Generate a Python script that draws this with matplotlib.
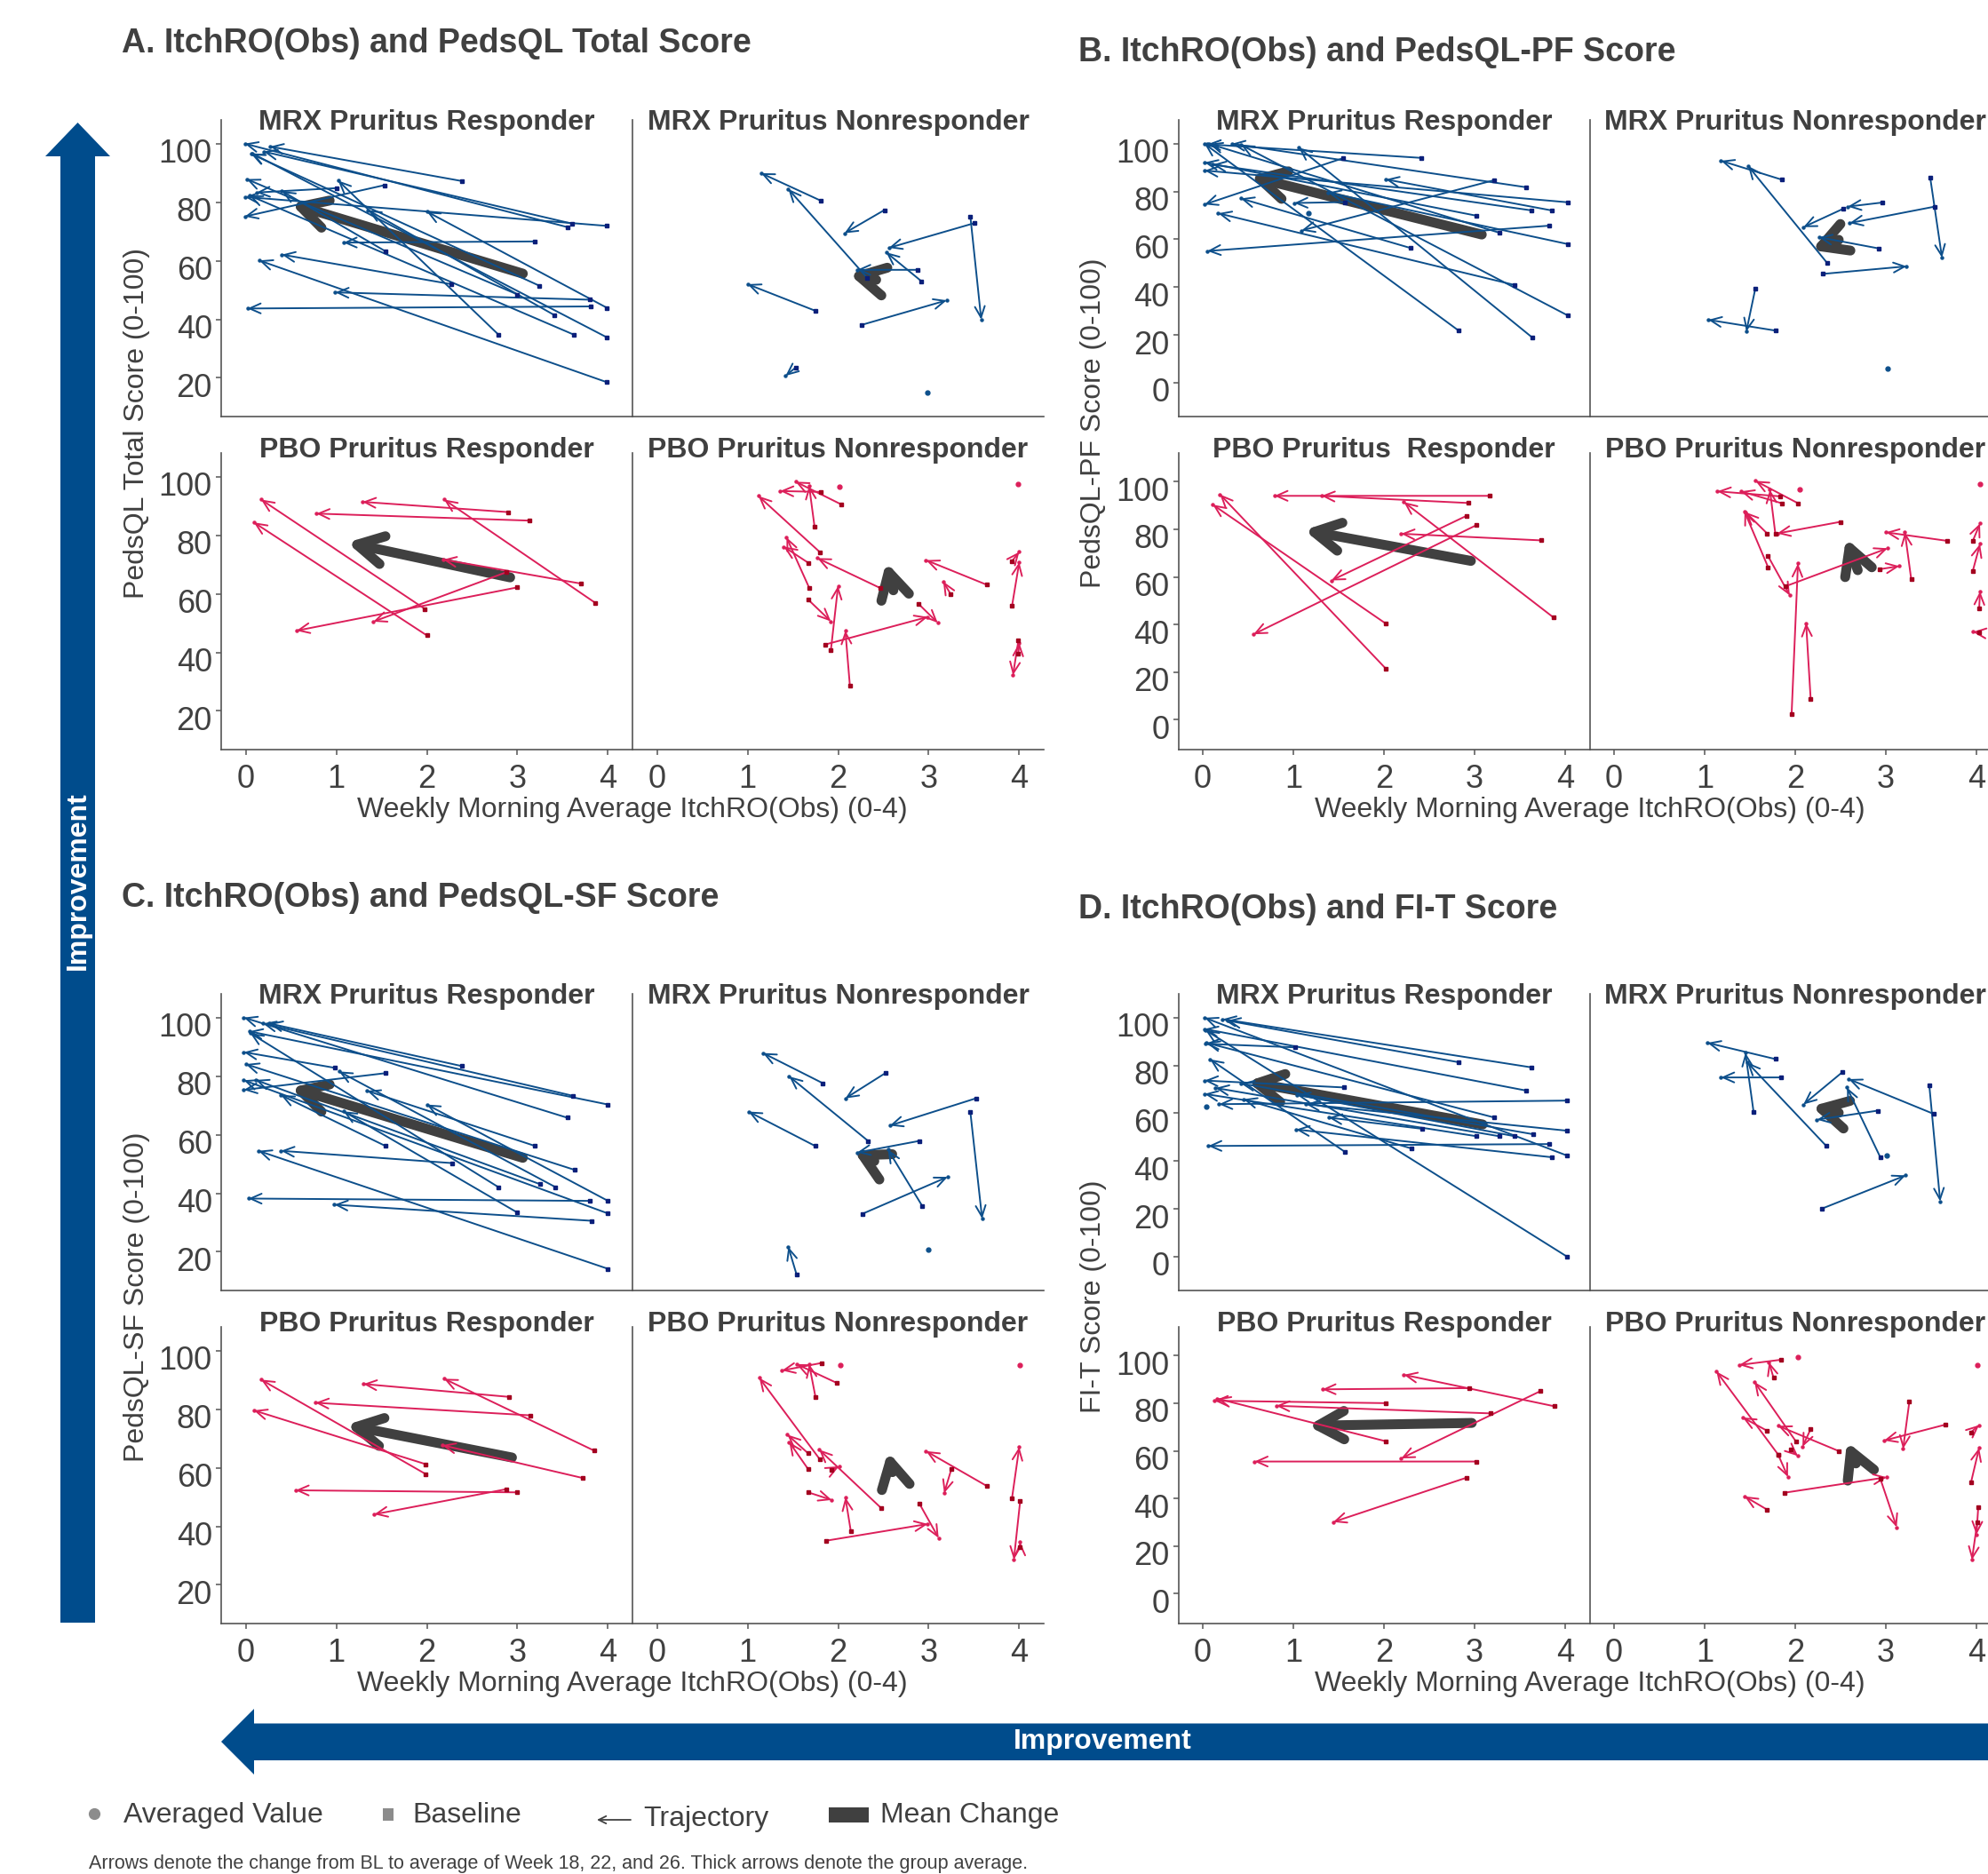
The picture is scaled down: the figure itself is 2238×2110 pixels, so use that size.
import matplotlib.pyplot as plt
import matplotlib.transforms as mtransforms
from matplotlib.patches import Polygon, Rectangle

plt.rcParams['font.family'] = ['Liberation Sans', 'DejaVu Sans']

W, H = 2238, 2110
TXT = '#404040'
AXC = '#555555'
BLUE = '#0d4f8b'
BLUE_SQ = '#0a1f7a'
RED = '#dc1f5a'
RED_SQ = '#a3001f'
MEAN = '#404040'
BIG = '#004c8c'

X_TICKS = [0, 1, 2, 3, 4]
PEDS_TICKS = [20, 40, 60, 80, 100]
PF_TICKS = [0, 20, 40, 60, 80, 100]

# each arrow: (baseline x, baseline y, averaged x, averaged y)
# ---- A. PedsQL Total
A_MRX_R = [(2.39, 87.2, 0.27, 99.0), (3.60, 72.7, 0.20, 97.3), (3.55, 71.5, -0.01, 100),
           (3.99, 71.9, -0.01, 81.8), (3.99, 43.9, 2.00, 76.8), (1.53, 85.8, -0.01, 75.1),
           (1.00, 84.8, 0.12, 83.3), (3.19, 66.6, 1.08, 66.2), (1.54, 63.3, 0.40, 83.8),
           (2.27, 52.0, 0.40, 62.1), (3.24, 51.5, 0.06, 96.5), (3.00, 48.5, 0.01, 87.9),
           (3.80, 46.7, 0.99, 49.2), (3.81, 44.4, 0.02, 43.7), (3.41, 41.4, 1.35, 77.3),
           (2.79, 34.8, 1.02, 87.4), (3.62, 34.8, 0.04, 82.3), (3.99, 33.8, 0.07, 96.7),
           (3.99, 18.5, 0.15, 60.1)]
A_MRX_N = [(1.81, 80.5, 1.15, 89.9), (2.32, 54.2, 1.45, 84.5), (2.51, 77.3, 2.07, 69.4),
           (3.51, 72.9, 2.56, 64.4), (3.46, 75.1, 3.58, 39.9), (2.88, 56.9, 2.21, 56.9),
           (2.92, 53.0, 2.53, 62.9), (1.75, 42.9, 1.00, 52.0), (2.26, 38.1, 3.20, 46.5),
           (1.53, 23.5, 1.42, 20.7)]
A_PBO_R = [(2.90, 87.9, 1.29, 91.4), (3.13, 85.0, 0.78, 87.4), (1.98, 54.8, 0.17, 92.2),
           (2.00, 45.8, 0.09, 84.4), (3.86, 56.9, 2.19, 92.2), (3.70, 63.5, 2.18, 71.7),
           (3.00, 62.2, 0.56, 47.4), (2.88, 67.4, 1.41, 50.5)]
A_PBO_N = [(1.81, 94.8, 1.36, 95.1), (2.03, 90.6, 1.53, 98.3), (1.74, 82.9, 1.68, 96.9),
           (1.80, 74.2, 1.12, 93.4), (1.67, 70.6, 1.40, 76.1), (1.68, 62.1, 1.43, 79.3),
           (2.47, 61.9, 1.77, 72.2), (1.67, 58.0, 1.92, 50.6), (1.92, 40.7, 2.00, 62.7),
           (1.86, 42.7, 2.99, 52.1), (2.13, 28.6, 2.08, 47.4), (2.89, 56.5, 3.10, 50.1),
           (3.24, 60.0, 3.16, 64.2), (3.64, 63.1, 2.97, 71.5), (3.92, 71.2, 4.00, 74.3),
           (3.92, 55.9, 4.00, 70.8), (3.99, 44.0, 3.93, 32.2), (3.99, 39.7, 4.00, 43.3)]
A_DOTS = [[], [(2.99, 15.1)], [], [(2.01, 96.6), (3.99, 97.4)]]
A_MEAN = [(3.06, 55.6, 0.50, 79.5), (2.42, 53.5, 2.12, 55.5),
          (2.92, 65.6, 1.12, 77.5), (2.61, 61.2, 2.53, 70.8)]

# ---- B. PedsQL-PF
B_MRX_R = [(2.41, 94.1, 0.05, 99.8), (1.55, 94.0, 0.02, 74.6), (3.22, 84.8, 1.09, 63.7),
           (3.57, 81.8, 0.32, 100), (4.03, 75.5, 0.02, 88.8), (3.63, 72.1, 0.11, 91.3),
           (3.85, 72.1, 2.02, 85.1), (1.57, 75.6, 1.01, 75.2), (3.02, 69.9, 0.02, 92.2),
           (3.27, 62.8, 0.07, 100), (3.82, 65.7, 0.05, 55.1), (4.03, 58.0, 1.38, 79.6),
           (2.29, 56.4, 0.42, 77.1), (3.44, 40.9, 0.17, 70.9), (4.03, 28.1, 0.42, 99.6),
           (2.82, 21.9, 0.02, 100), (3.64, 18.8, 1.06, 98.4)]
B_MRX_N = [(1.85, 85.0, 1.18, 92.9), (2.35, 50.2, 1.48, 90.7), (2.96, 75.4, 2.58, 73.7),
           (2.53, 72.8, 2.09, 65.1), (3.49, 85.8, 3.62, 52.3), (3.54, 73.7, 2.60, 66.8),
           (2.92, 56.2, 2.26, 60.9), (2.30, 45.5, 3.23, 48.7), (1.56, 39.5, 1.46, 21.4),
           (1.78, 21.8, 1.04, 26.3)]
B_PBO_R = [(3.17, 94.0, 0.79, 94.0), (2.93, 91.0, 1.31, 94.0), (3.87, 43.0, 2.22, 91.4),
           (2.02, 40.4, 0.11, 90.3), (2.02, 21.5, 0.19, 94.6), (3.74, 75.3, 2.19, 78.1),
           (2.91, 85.6, 1.42, 58.5), (3.02, 81.7, 0.56, 35.9)]
B_PBO_N = [(1.83, 93.8, 1.14, 95.9), (1.85, 90.9, 1.40, 95.9), (2.03, 90.9, 1.56, 100.3),
           (1.78, 78.2, 1.72, 96.6), (2.50, 83.1, 1.80, 78.2), (1.69, 78.2, 1.45, 87.2),
           (1.70, 64.1, 1.44, 87.4), (1.70, 68.7, 1.94, 52.2), (1.89, 56.0, 3.02, 72.0),
           (1.96, 2.5, 2.03, 65.6), (2.17, 8.9, 2.12, 40.6), (2.93, 63.2, 3.15, 64.5),
           (3.28, 59.1, 3.21, 78.7), (3.68, 75.1, 3.00, 78.7), (3.96, 75.1, 4.04, 82.4),
           (3.96, 62.5, 4.04, 73.8), (4.03, 46.6, 4.04, 53.9), (4.03, 36.6, 3.96, 36.9)]
B_DOTS = [[(1.17, 70.9)], [(3.02, 6.0)], [], [(2.05, 96.9), (4.04, 99.1)]]
B_MEAN = [(3.08, 62.0, 0.52, 86.4), (2.48, 59.8, 2.18, 55.5),
          (2.96, 66.7, 1.12, 79.6), (2.69, 62.8, 2.56, 76.2)]

# ---- C. PedsQL-SF
C_MRX_R = [(2.39, 83.4, 0.26, 98.0), (3.61, 73.3, 0.19, 98.0), (3.55, 65.8, -0.02, 100),
           (4.00, 70.3, 0.04, 95.3), (0.99, 82.8, -0.02, 88.2), (1.54, 81.0, -0.02, 75.3),
           (1.54, 56.2, 0.39, 73.5), (3.19, 56.2, 1.34, 75.0), (2.28, 50.3, 0.39, 54.5),
           (3.63, 48.0, 0.00, 84.1), (2.79, 42.1, 0.05, 94.7), (3.25, 43.1, 0.11, 78.7),
           (3.42, 42.1, 1.03, 81.6), (4.00, 37.4, 2.00, 70.3), (3.80, 37.4, 0.03, 38.2),
           (4.00, 33.1, -0.02, 78.6), (3.00, 33.4, 1.08, 68.0), (3.82, 30.6, 0.98, 36.1),
           (4.00, 14.2, 0.14, 54.5)]
C_MRX_N = [(1.83, 77.6, 1.17, 87.9), (2.52, 81.0, 2.08, 72.4), (2.33, 57.9, 1.46, 79.9),
           (1.75, 56.1, 1.01, 67.9), (3.52, 72.4, 2.57, 63.1), (3.46, 67.7, 3.59, 31.3),
           (2.90, 57.9, 2.21, 53.9), (2.93, 35.6, 2.55, 54.9), (2.27, 33.0, 3.21, 45.6),
           (1.54, 12.4, 1.45, 21.7)]
C_PBO_R = [(2.91, 84.2, 1.30, 88.6), (3.14, 77.9, 0.77, 82.2), (3.85, 65.8, 2.19, 90.4),
           (1.99, 61.2, 0.09, 79.6), (1.99, 57.8, 0.17, 90.1), (3.72, 56.5, 2.17, 67.7),
           (3.00, 51.6, 0.55, 52.3), (2.88, 52.7, 1.42, 44.1)]
C_PBO_N = [(1.82, 95.8, 1.38, 93.2), (1.99, 88.9, 1.54, 95.4), (1.75, 84.2, 1.68, 95.4),
           (1.80, 62.8, 1.13, 90.7), (1.67, 64.9, 1.44, 71.3), (1.67, 59.5, 1.46, 68.8),
           (2.48, 46.1, 1.79, 66.2), (1.93, 59.2, 2.01, 60.5), (1.67, 51.6, 1.93, 49.0),
           (2.14, 38.4, 2.08, 49.9), (1.87, 35.1, 2.99, 40.8), (2.90, 47.6, 3.11, 36.0),
           (3.25, 59.5, 3.17, 51.3), (3.64, 53.8, 2.97, 65.7), (3.92, 49.7, 4.00, 67.1),
           (4.01, 48.7, 3.94, 28.6), (4.01, 32.9, 4.01, 34.6)]
C_DOTS = [[], [(3.00, 20.6)], [], [(2.02, 95.0), (4.01, 95.0)]]
C_MEAN = [(3.06, 52.1, 0.50, 76.1), (2.40, 51.0, 2.17, 54.6),
          (2.94, 63.5, 1.11, 74.6), (2.60, 58.5, 2.55, 65.5)]

# ---- D. FI-T
D_MRX_R = [(3.63, 79.2, 0.22, 99.4), (2.82, 81.4, 0.27, 98.8), (3.57, 69.5, 0.02, 95.3),
           (1.02, 87.6, 0.03, 89.1), (4.02, 42.3, 0.02, 100), (3.22, 58.2, 0.04, 89.5),
           (1.56, 70.8, 0.02, 73.7), (4.02, 65.3, 0.18, 63.8), (1.57, 43.8, 0.08, 82.6),
           (3.02, 50.4, 0.02, 68.1), (3.27, 50.4, 0.14, 70.6), (3.44, 50.4, 1.04, 67.7),
           (3.65, 51.2, 0.42, 72.5), (4.02, 52.7, 1.14, 63.8), (3.82, 47.1, 0.06, 46.3),
           (3.85, 41.6, 1.03, 53.2), (2.42, 53.5, 1.39, 58.2), (2.30, 45.3, 0.45, 65.9),
           (4.02, 0.0, 0.03, 94.8)]
D_MRX_N = [(1.78, 82.7, 1.03, 89.5), (1.84, 75.0, 1.18, 75.0), (1.54, 60.6, 1.45, 85.3),
           (2.34, 46.4, 1.47, 81.3), (2.52, 77.2, 2.09, 63.7), (2.91, 61.1, 2.24, 57.3),
           (3.48, 71.6, 3.60, 23.1), (3.53, 59.7, 2.59, 74.3), (2.94, 41.5, 2.57, 70.8),
           (2.29, 20.0, 3.22, 34.0)]
D_PBO_R = [(2.94, 86.3, 1.32, 85.8), (3.88, 78.7, 2.22, 91.9), (2.02, 80.0, 0.13, 81.0),
           (3.18, 75.7, 0.81, 78.9), (2.02, 64.0, 0.16, 81.9), (3.73, 85.1, 2.19, 56.8),
           (3.02, 55.5, 0.57, 55.5), (2.91, 48.7, 1.44, 30.1)]
D_PBO_N = [(1.84, 98.2, 1.38, 96.0), (1.76, 90.7, 1.71, 97.2), (1.81, 58.5, 1.13, 93.3),
           (1.69, 68.4, 1.42, 74.0), (2.01, 63.8, 1.55, 88.9), (1.81, 58.5, 1.92, 49.0),
           (1.95, 60.5, 2.03, 57.8), (2.48, 59.9, 1.81, 70.5), (2.17, 69.1, 2.08, 61.7),
           (1.69, 35.3, 1.44, 40.9), (1.88, 42.4, 3.01, 48.9), (2.94, 48.2, 3.12, 27.9),
           (3.26, 80.7, 3.19, 60.8), (3.66, 71.0, 2.98, 64.3), (3.94, 67.8, 4.03, 70.8),
           (3.94, 46.7, 4.03, 61.2), (4.02, 36.2, 4.00, 24.8), (4.01, 30.1, 3.95, 14.2)]
D_DOTS = [[(0.04, 62.8)], [(3.01, 42.2)], [], [(2.03, 99.5), (4.01, 96.0)]]
D_MEAN = [(3.09, 55.3, 0.49, 73.3), (2.48, 60.2, 2.18, 62.9),
          (2.97, 71.7, 1.16, 70.5), (2.67, 54.7, 2.57, 63.8)]

FACET_TITLES = ["MRX Pruritus Responder", "MRX Pruritus Nonresponder",
                "PBO Pruritus Responder", "PBO Pruritus Nonresponder"]
FACET_TITLES_B = ["MRX Pruritus Responder", "MRX Pruritus Nonresponder",
                  "PBO Pruritus  Responder", "PBO Pruritus Nonresponder"]

panels = [
    dict(title="A. ItchRO(Obs) and PedsQL Total Score", tx=137, ty=59, left=249, top=135,
         ylabel="PedsQL Total Score (0-100)", yticks=PEDS_TICKS,
         ylims=[(6.8, 108.1), (6.8, 108.1)], facets=FACET_TITLES,
         arrows=[A_MRX_R, A_MRX_N, A_PBO_R, A_PBO_N], dots=A_DOTS, means=A_MEAN),
    dict(title="B. ItchRO(Obs) and PedsQL-PF Score", tx=1214, ty=69, left=1326.5, top=135,
         ylabel="PedsQL-PF Score (0-100)", yticks=PF_TICKS,
         ylims=[(-14.2, 110), (-12.5, 112)], facets=FACET_TITLES_B,
         arrows=[B_MRX_R, B_MRX_N, B_PBO_R, B_PBO_N], dots=B_DOTS, means=B_MEAN),
    dict(title="C. ItchRO(Obs) and PedsQL-SF Score", tx=137, ty=1021, left=249, top=1119,
         ylabel="PedsQL-SF Score (0-100)", yticks=PEDS_TICKS,
         ylims=[(6.8, 108.1), (6.8, 108.1)], facets=FACET_TITLES,
         arrows=[C_MRX_R, C_MRX_N, C_PBO_R, C_PBO_N], dots=C_DOTS, means=C_MEAN),
    dict(title="D. ItchRO(Obs) and FI-T Score", tx=1214, ty=1034, left=1326.5, top=1119,
         ylabel="FI-T Score (0-100)", yticks=PF_TICKS,
         ylims=[(-14.2, 110), (-12.5, 112)], facets=FACET_TITLES,
         arrows=[D_MRX_R, D_MRX_N, D_PBO_R, D_PBO_N], dots=D_DOTS, means=D_MEAN),
]

FW, FH, ROWGAP = 463, 334, 375

fig = plt.figure(figsize=(W / 100, H / 100), dpi=100)

# overlay in pixel coordinates for titles, labels, legend, big arrows
ov = fig.add_axes([0, 0, 1, 1])
ov.set_xlim(0, W)
ov.set_ylim(H, 0)
ov.axis('off')

ylab_shift = mtransforms.ScaledTranslation(0, -8 / 100, fig.dpi_scale_trans)


def add_px_axes(l, t, w, h):
    return fig.add_axes([l / W, 1 - (t + h) / H, w / W, h / H])


for p in panels:
    ov.text(p['tx'], p['ty'], p['title'], fontsize=27, fontweight='bold', color=TXT,
            va='baseline', ha='left')
    cx = p['left'] + FW
    ov.text(cx, p['top'] + 777, "Weekly Morning Average ItchRO(Obs) (0-4)",
            fontsize=23, color=TXT, ha='center', va='center')
    ov.text(p['left'] - 95, p['top'] + 341, p['ylabel'], rotation=90, fontsize=23,
            color=TXT, ha='center', va='center')

    for i in range(4):
        r, c = divmod(i, 2)
        ax = add_px_axes(p['left'] + c * FW, p['top'] + r * ROWGAP, FW, FH)
        ax.set_facecolor('none')
        ax.set_xlim(-0.27, 4.27)
        ax.set_ylim(*p['ylims'][r])
        for s in ['top', 'right']:
            ax.spines[s].set_visible(False)
        for s in ['left', 'bottom']:
            ax.spines[s].set_color(AXC)
            ax.spines[s].set_linewidth(1.2)
        ax.set_xticks(X_TICKS)
        ax.set_yticks(p['yticks'])
        ax.tick_params(axis='both', length=4.3, width=1.1, color=AXC,
                       labelsize=26, labelcolor=TXT)
        ax.tick_params(axis='y', pad=3)
        ax.tick_params(axis='x', pad=7)
        if c == 1:
            ax.tick_params(axis='y', left=False, labelleft=False)
        else:
            for lab in ax.get_yticklabels():
                lab.set_transform(lab.get_transform() + ylab_shift)
        if r == 0:
            ax.tick_params(axis='x', bottom=False, labelbottom=False)

        ax.text(0.5, 1.0 + (3 / FH if r == 1 else -3 / FH), p['facets'][i],
                transform=ax.transAxes, ha='center', va='center', fontsize=23,
                fontweight='bold', color=TXT)

        col, sq = (BLUE, BLUE_SQ) if r == 0 else (RED, RED_SQ)

        mx0, my0, mx1, my1 = p['means'][i]
        ax.annotate('', xy=(mx1, my1), xytext=(mx0, my0), zorder=2,
                    arrowprops=dict(arrowstyle='->,head_length=2.1,head_width=1.15',
                                    color=MEAN, lw=8, shrinkA=0, shrinkB=0,
                                    mutation_scale=10))

        arr = p['arrows'][i]
        for x0, y0, x1, y1 in arr:
            ax.annotate('', xy=(x1, y1), xytext=(x0, y0), zorder=3,
                        arrowprops=dict(arrowstyle='->,head_length=0.9,head_width=0.4',
                                        color=col, lw=1.4, shrinkA=0, shrinkB=0,
                                        mutation_scale=10))
        ax.plot([a[2] for a in arr], [a[3] for a in arr], 'o', color=col, ms=2.2,
                zorder=4, clip_on=False)
        ax.plot([a[0] for a in arr], [a[1] for a in arr], 's', color=sq, ms=3.0,
                zorder=4, clip_on=False)
        d = p['dots'][i]
        if d:
            ax.plot([q[0] for q in d], [q[1] for q in d], 'o', color=col, ms=3.5,
                    zorder=4)

# big "Improvement" arrows
ov.add_patch(Polygon([(68, 1827), (68, 176), (51, 176), (87.5, 138), (124, 176),
                      (107, 176), (107, 1827)], closed=True, color=BIG, lw=0))
ov.text(87.5, 992, "Improvement", rotation=90, color='white', fontweight='bold',
        fontsize=23, ha='center', va='center')
ov.add_patch(Polygon([(2245, 1940.5), (286, 1940.5), (286, 1924), (249, 1961),
                      (286, 1998), (286, 1982), (2245, 1982)], closed=True,
                     color=BIG, lw=0))
ov.text(1241, 1961, "Improvement", color='white', fontweight='bold', fontsize=23,
        ha='center', va='center')

# legend
ly = 2044
ov.plot([106], [ly - 2], 'o', ms=8.5, color='#8c8c8c')
ov.text(139, ly, "Averaged Value", fontsize=23, color=TXT, va='center')
ov.add_patch(Rectangle((431, ly - 8), 12, 14, color='#8c8c8c', lw=0))
ov.text(464, ly, "Baseline", fontsize=23, color=TXT, va='center')
ov.annotate('', xy=(672, ly + 5), xytext=(710, ly + 5),
            arrowprops=dict(arrowstyle='->,head_length=0.6,head_width=0.3', color=TXT,
                            lw=1.3, shrinkA=0, shrinkB=0, mutation_scale=10))
ov.text(724, ly + 4, "Trajectory", fontsize=23, color=TXT, va='center')
ov.add_patch(Rectangle((933, ly - 9), 45, 17, color=MEAN, lw=0))
ov.text(991, ly, "Mean Change", fontsize=23, color=TXT, va='center')
ov.text(100, 2104, "Arrows denote the change from BL to average of Week 18, 22, and 26. "
        "Thick arrows denote the group average.", fontsize=15.5, color=TXT,
        va='baseline')

fig.savefig("out.png", dpi=100)
